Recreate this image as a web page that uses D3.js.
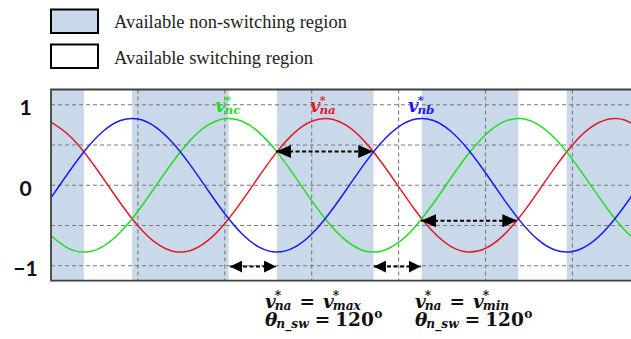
<!DOCTYPE html>
<html><head><meta charset="utf-8">
<script src="https://cdn.jsdelivr.net/npm/d3@7/dist/d3.min.js"></script>
<style>body{margin:0;background:#fff}svg{display:block}</style>
</head><body><svg id="c" width="631" height="339"></svg>
<script>
// ---- data (time in ms, values in p.u.) ----
const timeMs = [0,1,2,3,4,5,6,7,8,9,10,11,12,13,14,15,16,17,18,19,20,21,22,23,24,25,26,27,28,29,30,31,32,33,34];
const vNa = [0.784,0.628,0.385,0.087,-0.223,-0.502,-0.710,-0.818,-0.812,-0.691,-0.474,-0.190,0.121,0.415,0.651,0.795,0.827,0.743,0.555,0.289,-0.017,-0.322,-0.581,-0.758,-0.829,-0.784,-0.628,-0.385,-0.087,0.223,0.502,0.710,0.818,0.812,0.691];
const vNb = [-0.156,0.156,0.445,0.672,0.804,0.823,0.727,0.529,0.257,-0.052,-0.353,-0.605,-0.772,-0.830,-0.772,-0.605,-0.353,-0.052,0.257,0.529,0.727,0.823,0.804,0.672,0.445,0.156,-0.156,-0.445,-0.672,-0.804,-0.823,-0.727,-0.529,-0.257,0.052];
const vNc = [-0.628,-0.784,-0.829,-0.758,-0.581,-0.322,-0.017,0.289,0.555,0.743,0.827,0.795,0.651,0.415,0.121,-0.190,-0.474,-0.691,-0.812,-0.818,-0.710,-0.502,-0.223,0.087,0.385,0.628,0.784,0.829,0.758,0.581,0.322,0.017,-0.289,-0.555,-0.743];
const shadeStart = [0, 4.67, 13.0, 21.33, 29.67];
const shadeEnd   = [1.89, 10.22, 18.56, 26.89, 35];
const yTicks = [1, 0, -1];
const yGrid = [1, 0.5, 0, -0.5, -1];
const xGrid = [5, 10, 15, 20, 25, 30];
const arrowFrom  = [12.95, 21.29, 10.3, 18.58];
const arrowTo    = [18.54, 26.83, 12.95, 21.27];
const arrowLevel = [0.42, -0.44, -1.01, -1.01];
const curveSubs  = ['nc', 'na', 'nb'];
const labelT = [9.44, 14.9, 20.54];
const labelV = [0.91, 0.91, 0.91];
const legendLabels = ['Available non-switching region', 'Available switching region'];
const condSubs = ['max', 'min'];
const swAngle = '120';

// ---- styles ----
const RED = '#e31b26', GREEN = '#22dd22', BLUE = '#1c1cf0';
const SHADE = '#c9d9ea';
const labelColors = [GREEN, RED, BLUE];

const svg = d3.select('#c');
const x = d3.scaleLinear().domain([0, 34]).range([51, 51 + 34 * 17.38]);
const y = d3.scaleLinear().domain([-1.185, 1.19]).range([280.7, 89.5]);
const pTop = y(1.19), pBot = y(-1.185), pLeft = x(0), pRight = x(34);

svg.append('defs').append('clipPath').attr('id', 'clip')
  .append('rect').attr('x', pLeft).attr('y', pTop).attr('width', pRight - pLeft).attr('height', pBot - pTop);

const plot = svg.append('g').attr('clip-path', 'url(#clip)');

// shaded regions
plot.selectAll('rect.sh').data(shadeStart).join('rect').attr('class', 'sh')
  .attr('x', (d) => x(d)).attr('y', pTop)
  .attr('width', (d, i) => x(shadeEnd[i]) - x(d)).attr('height', pBot - pTop)
  .attr('fill', SHADE);

// grid
plot.selectAll('line.hg').data(yGrid).join('line').attr('class', 'hg')
  .attr('x1', pLeft).attr('x2', pRight).attr('y1', d => y(d)).attr('y2', d => y(d))
  .attr('stroke', '#7a7a7a').attr('stroke-width', 1.1).attr('stroke-dasharray', '4,3');
plot.selectAll('line.vg').data(xGrid).join('line').attr('class', 'vg')
  .attr('y1', pTop).attr('y2', pBot).attr('x1', d => x(d)).attr('x2', d => x(d))
  .attr('stroke', '#7a7a7a').attr('stroke-width', 1.1).attr('stroke-dasharray', '4,3');

// curves
const line = d3.line().x((d, i) => x(timeMs[i])).y(d => y(d)).curve(d3.curveNatural);
[[vNa, RED], [vNc, GREEN], [vNb, BLUE]].forEach(([vals, col]) => {
  plot.append('path').attr('d', line(vals)).attr('fill', 'none')
    .attr('stroke', col).attr('stroke-width', 1.5);
});

// arrows
const defs = svg.select('defs');
[['big', 15, 13], ['small', 12, 12]].forEach(([id, L, W]) => {
  defs.append('marker').attr('id', 'ah-' + id).attr('markerUnits', 'userSpaceOnUse')
    .attr('markerWidth', L).attr('markerHeight', W).attr('refX', L).attr('refY', W / 2)
    .attr('orient', 'auto-start-reverse').attr('viewBox', `0 0 ${L} ${W}`)
    .append('path').attr('d', `M0,0L${L},${W / 2}L0,${W}Z`).attr('fill', '#000');
});
svg.selectAll('line.ar').data(arrowFrom).join('line').attr('class', 'ar')
  .attr('x1', d => x(d)).attr('x2', (d, i) => x(arrowTo[i]))
  .attr('y1', (d, i) => y(arrowLevel[i])).attr('y2', (d, i) => y(arrowLevel[i]))
  .attr('stroke', '#000').attr('stroke-width', 2).attr('stroke-dasharray', '4,2.5')
  .attr('marker-start', (d, i) => arrowTo[i] - d < 4 ? 'url(#ah-small)' : 'url(#ah-big)')
  .attr('marker-end', (d, i) => arrowTo[i] - d < 4 ? 'url(#ah-small)' : 'url(#ah-big)');

// frame
svg.append('path').attr('d', `M${pRight},${pTop}H${pLeft}V${pBot}H${pRight}`)
  .attr('fill', 'none').attr('stroke', '#404040').attr('stroke-width', 1.8);

// y axis labels
const yAxis = svg.append('g').attr('transform', `translate(${pLeft},0)`)
  .call(d3.axisLeft(y).tickValues(yTicks).tickSize(0).tickFormat(d => d < 0 ? '\u2212' + Math.abs(d) : String(d)));
yAxis.select('.domain').remove();
yAxis.selectAll('text').attr('x', -25.5).attr('dy', '0.47em').attr('text-anchor', 'middle')
  .attr('font-family', 'Lato, "Liberation Sans", sans-serif').attr('font-weight', 700)
  .attr('font-size', 21).attr('fill', '#111');

// math text helper: one <text> per expression, tspans for sup/sub
function drawMath(g, x0, y0, tokens, size, color) {
  const ss = size * 0.66, supOff = -size * 0.42, subOff = size * 0.13;
  const t = g.append('text').attr('x', x0).attr('y', y0).attr('font-size', size)
    .attr('font-family', '"DejaVu Serif", serif').attr('font-weight', 'bold').attr('fill', color);
  let pend = 0, cur = 0;
  tokens.forEach(tok => {
    pend += tok.pl || 0;
    if (tok.t) {
      t.append('tspan').attr('dx', pend).attr('dy', -cur)
        .attr('font-style', tok.it ? 'italic' : 'normal').text(tok.t);
      cur = 0; pend = 0;
    }
    let supW = 0;
    if (tok.sup) {
      const d = tok.it ? -1 : 0.5;
      const sp = t.append('tspan').attr('dx', pend + d).attr('dy', supOff - cur)
        .attr('font-size', ss).attr('font-style', 'normal').text(tok.sup);
      cur = supOff; pend = 0;
      supW = sp.node().getComputedTextLength() + d;
    }
    if (tok.sub) {
      const sb = t.append('tspan').attr('dx', pend - supW - 1).attr('dy', subOff - cur)
        .attr('font-size', ss).attr('font-style', 'italic').text(tok.sub);
      cur = subOff; pend = 0;
      const subW = sb.node().getComputedTextLength() - 1;
      if (supW > subW) pend = supW - subW;
    }
    pend += tok.pr || 0;
  });
  return t;
}

// curve labels
const lab = svg.append('g');
curveSubs.forEach((sub, i) => {
  drawMath(lab, x(labelT[i]), y(labelV[i]), [{ t: 'v', it: true, sup: '*', sub: sub }], 18, labelColors[i]);
});

// bottom annotations
const ann = svg.append('g');
condSubs.forEach((s, i) => {
  const x0 = 265 + i * 150;
  drawMath(ann, x0, 308, [{ t: 'v', it: true, sup: '*', sub: 'na' }, { t: '=', pl: 8, pr: 8 }, { t: 'v', it: true, sup: '*', sub: s }], 18.5, '#111');
  drawMath(ann, x0, 326, [{ t: '\u03b8', it: true, sub: 'n_sw' }, { t: '=', pl: 6, pr: 5 }, { t: swAngle, sup: 'o' }], 18.5, '#111');
});

// legend
const leg = svg.append('g');
legendLabels.forEach((name, i) => {
  leg.append('rect').attr('x', 51).attr('y', 9.5 + i * 35).attr('width', 47).attr('height', 23.5)
    .attr('fill', i === 0 ? SHADE : '#fff').attr('stroke', '#000').attr('stroke-width', 2);
  leg.append('text').attr('x', 114).attr('y', 27.5 + i * 36.5).attr('font-family', '"Liberation Serif", "Times New Roman", serif')
    .attr('font-size', 18.5).attr('fill', '#222').text(name);
});
</script></body></html>
